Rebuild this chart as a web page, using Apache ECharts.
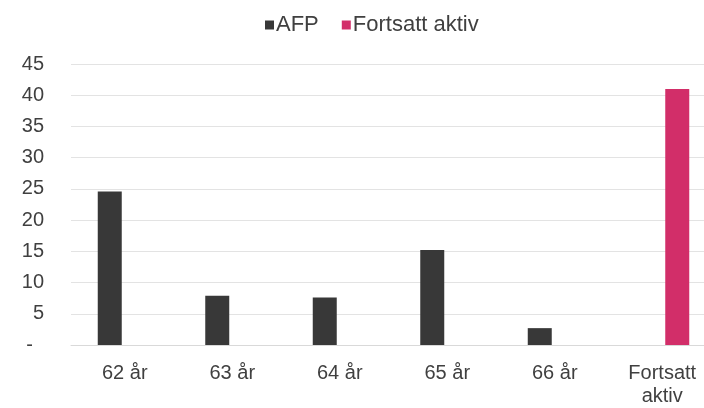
<!DOCTYPE html>
<html>
<head>
<meta charset="utf-8">
<script src="https://cdn.jsdelivr.net/npm/echarts@6/dist/echarts.min.js"></script>
<style>html,body{margin:0;padding:0;background:#fff}#c{width:704px;height:408px}</style>
</head>
<body>
<div id="c"></div>
<script>
var categories = ['62 år', '63 år', '64 år', '65 år', '66 år', 'Fortsatt aktiv'];
var afpValues = [24.6, 7.9, 7.6, 15.2, 2.7, null];
var activeValues = [null, null, null, null, null, 41.0];
var seriesNames = ['AFP', 'Fortsatt aktiv'];

var FONT = '"Liberation Sans", Arial, sans-serif';
var chart = echarts.init(document.getElementById('c'), null, {renderer: 'canvas'});
chart.setOption({
  animation: false,
  backgroundColor: '#ffffff',
  legend: {
    left: 260,
    top: 9,
    itemWidth: 9,
    itemHeight: 9,
    itemGap: 23,
    icon: 'rect',
    textStyle: {fontFamily: FONT, fontSize: 22, color: '#404040', padding: [0, 0, 0, -3]},
    data: seriesNames
  },
  grid: {left: 71, width: 645, top: 64, bottom: 63, containLabel: false, outerBoundsMode: 'none'},
  xAxis: {
    type: 'category',
    data: categories,
    axisTick: {show: false},
    axisLine: {show: true, lineStyle: {color: '#d9d9d9', width: 1}},
    axisLabel: {
      margin: 17,
      fontFamily: FONT, fontSize: 20, color: '#404040', lineHeight: 23,
      formatter: function (v) { return v.replace(' aktiv', '\naktiv'); }
    }
  },
  yAxis: {
    type: 'value',
    min: 0, max: 45, interval: 5,
    axisLine: {show: false},
    axisTick: {show: false},
    splitLine: {lineStyle: {color: '#e3e3e3', width: 1}},
    axisLabel: {
      margin: 27,
      fontFamily: FONT, fontSize: 20, color: '#404040',
      formatter: function (v) { return v === 0 ? '-  ' : String(v); }
    }
  },
  series: [
    {name: seriesNames[0], type: 'bar', data: afpValues, barWidth: 24, barGap: '25%',
     itemStyle: {color: '#383838'}},
    {name: seriesNames[1], type: 'bar', data: activeValues, barWidth: 24, barGap: '25%',
     itemStyle: {color: '#d22e69'}}
  ]
});
</script>
</body>
</html>
